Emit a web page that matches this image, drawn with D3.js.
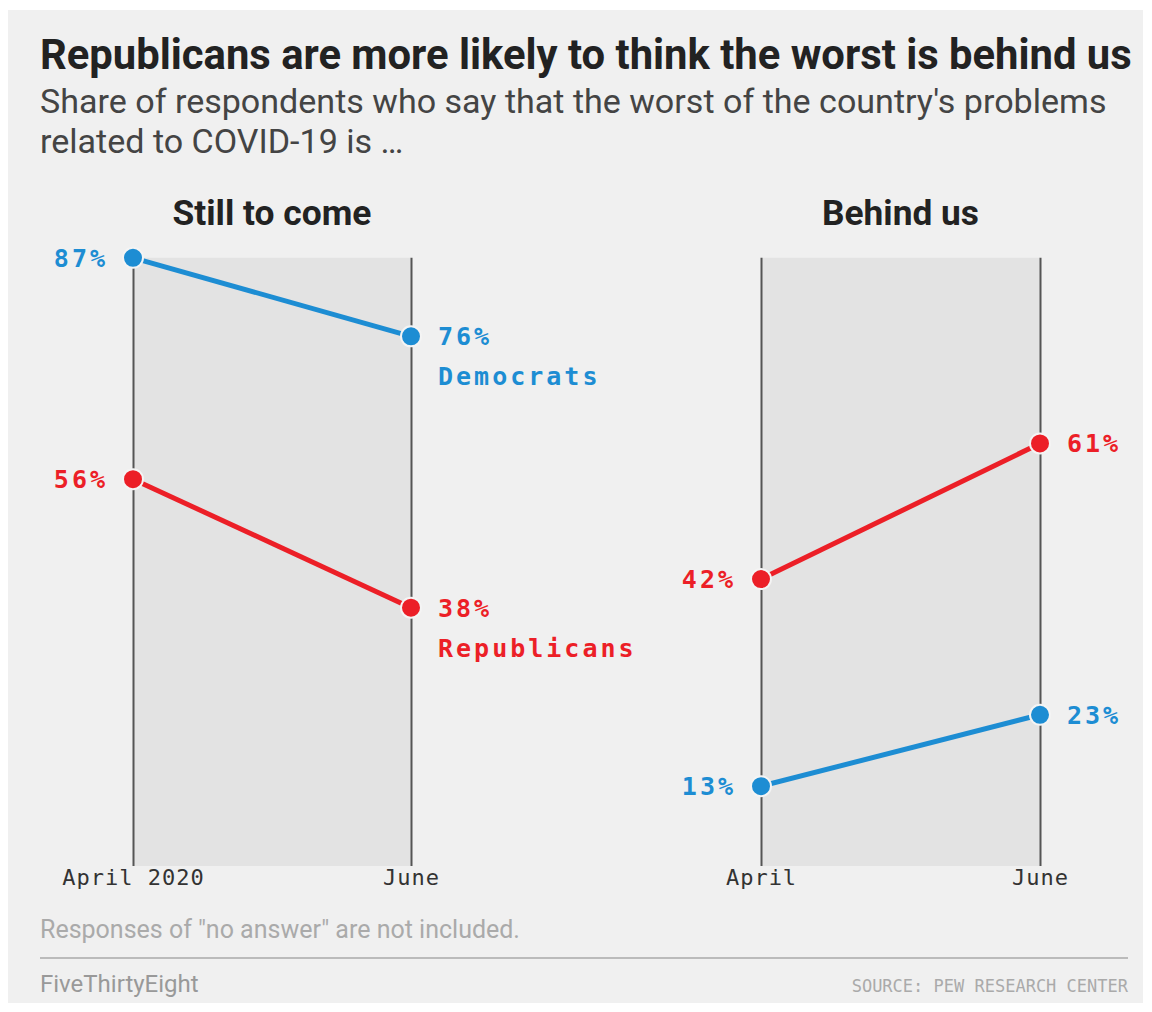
<!DOCTYPE html>
<html>
<head>
<meta charset="utf-8">
<script src="https://cdn.jsdelivr.net/npm/d3@7"></script>
<style>
  body { margin: 0; background: #ffffff; }
  svg { display: block; }
  .mono { font-family: "DejaVu Sans Mono", "Liberation Mono", monospace; }
</style>
</head>
<body>
<div id="chart"></div>
<script>
// Data
const periods = ["April", "June"];
const panelTitles = ["Still to come", "Behind us"];
const tickLabelsStill = ["April 2020", "June"];
const tickLabelsBehind = ["April", "June"];
const demStill = [87, 76];
const repStill = [56, 38];
const demBehind = [13, 23];
const repBehind = [42, 61];

const blue = "#1d8dd3", red = "#ec1f27";

const W = 1152, H = 1012;
const svg = d3.select("#chart").append("svg")
    .attr("width", W)
    .attr("height", H);

// fit a text element to a target width by scaling its font size
function fitWidth(sel, size, target) {
  const w = sel.node().getComputedTextLength();
  sel.style("font-size", (size * target / w) + "px");
}

// Background card
svg.append("rect")
    .attr("x", 8).attr("y", 10)
    .attr("width", 1135).attr("height", 993)
    .attr("fill", "#f0f0f0");

// Title
const title = svg.append("text")
    .attr("x", 40).attr("y", 69)
    .style("font-family", "Roboto, 'Noto Sans', sans-serif")
    .style("font-weight", 700)
    .style("font-size", "31px")
    .attr("fill", "#222")
    .text("Republicans are more likely to think the worst is behind us");
fitWidth(title, 31, 1092);

// Subtitle
const subLines = ["Share of respondents who say that the worst of the country's problems",
                  "related to COVID-19 is \u2026"];
const sub = svg.append("text")
    .style("font-family", "Roboto, 'Noto Sans', sans-serif")
    .style("font-size", "26px")
    .attr("fill", "#444");
subLines.forEach((t, i) => {
  sub.append("tspan").attr("x", 40).attr("y", 113 + i * 40).text(t);
});
const sw = sub.select("tspan").node().getComputedTextLength();
sub.style("font-size", (26 * 1067 / sw) + "px");

// Scales
const y = d3.scaleLinear().domain([0, 100]).range([879, 165]);
const plotTop = y(87), plotBottom = 866;

const panels = [
  {title: panelTitles[0], range: [133, 411], ticks: tickLabelsStill, titleW: 199,
   series: [{name: "Democrats", values: demStill, color: blue},
            {name: "Republicans", values: repStill, color: red}], named: true},
  {title: panelTitles[1], range: [761, 1040], ticks: tickLabelsBehind, titleW: 157,
   series: [{name: "Democrats", values: demBehind, color: blue},
            {name: "Republicans", values: repBehind, color: red}], named: false}
];

panels.forEach(p => {
  const x = d3.scalePoint().domain(periods).range(p.range);
  const g = svg.append("g");

  // shaded band
  g.append("rect")
      .attr("x", x(periods[0]))
      .attr("y", plotTop)
      .attr("width", x(periods[1]) - x(periods[0]))
      .attr("height", plotBottom - plotTop)
      .attr("fill", "#e3e3e3");

  // axis with full-height ticks
  const axis = g.append("g")
      .attr("transform", `translate(0,${plotBottom})`)
      .call(d3.axisBottom(x)
        .tickSize(-(plotBottom - plotTop))
        .tickPadding(3)
        .tickFormat((d, i) => p.ticks[i]));
  axis.select(".domain").remove();
  axis.selectAll(".tick line").attr("stroke", "#555").attr("stroke-width", 2);
  axis.selectAll(".tick text")
      .attr("class", "mono")
      .style("font-size", "22px")
      .style("letter-spacing", "1px")
      .attr("fill", "#333");

  // panel title
  const pt = g.append("text")
      .attr("x", (p.range[0] + p.range[1]) / 2)
      .attr("y", 225)
      .attr("text-anchor", "middle")
      .style("font-family", "Roboto, 'Noto Sans', sans-serif")
      .style("font-weight", 700)
      .style("font-size", "27px")
      .attr("fill", "#222")
      .text(p.title);
  fitWidth(pt, 27, p.titleW);

  const line = d3.line()
      .x((d, i) => x(periods[i]))
      .y(d => y(d));

  p.series.forEach(s => {
    g.append("path")
        .datum(s.values)
        .attr("d", line)
        .attr("fill", "none")
        .attr("stroke", s.color)
        .attr("stroke-width", 5);

    g.selectAll(null)
        .data(s.values)
        .join("circle")
          .attr("cx", (d, i) => x(periods[i]))
          .attr("cy", d => y(d))
          .attr("r", 10)
          .attr("fill", s.color)
          .attr("stroke", "#f4f4f4")
          .attr("stroke-width", 2);

    g.selectAll(null)
        .data(s.values)
        .join("text")
          .attr("class", "mono")
          .attr("x", (d, i) => x(periods[i]) + (i === 0 ? -25 : 27))
          .attr("y", d => y(d))
          .attr("dy", "0.36em")
          .attr("text-anchor", (d, i) => i === 0 ? "end" : "start")
          .style("font-size", "25px")
          .style("font-weight", 700)
          .style("letter-spacing", "3px")
          .attr("fill", s.color)
          .text(d => d + "%");

    if (p.named) {
      const last = s.values[s.values.length - 1];
      g.append("text")
          .attr("class", "mono")
          .attr("x", x(periods[1]) + 27)
          .attr("y", y(last) + 40)
          .attr("dy", "0.36em")
          .style("font-size", "25px")
          .style("font-weight", 700)
          .style("letter-spacing", "3px")
          .attr("fill", s.color)
          .text(s.name);
    }
  });
});

// Note and footer
svg.append("text")
    .attr("x", 40).attr("y", 938)
    .style("font-family", "Roboto, 'Noto Sans', sans-serif")
    .style("font-size", "25px")
    .attr("fill", "#aaa")
    .text('Responses of "no answer" are not included.');

svg.append("line")
    .attr("x1", 40).attr("x2", 1128)
    .attr("y1", 958).attr("y2", 958)
    .attr("stroke", "#bbb")
    .attr("stroke-width", 2);

svg.append("text")
    .attr("x", 40).attr("y", 992)
    .style("font-family", "Roboto, 'Noto Sans', sans-serif")
    .style("font-size", "24px")
    .attr("fill", "#999")
    .text("FiveThirtyEight");

svg.append("text")
    .attr("class", "mono")
    .attr("x", 1128).attr("y", 992)
    .attr("text-anchor", "end")
    .style("font-size", "17px")
    .attr("fill", "#aaa")
    .text("SOURCE: PEW RESEARCH CENTER");
</script>
</body>
</html>
